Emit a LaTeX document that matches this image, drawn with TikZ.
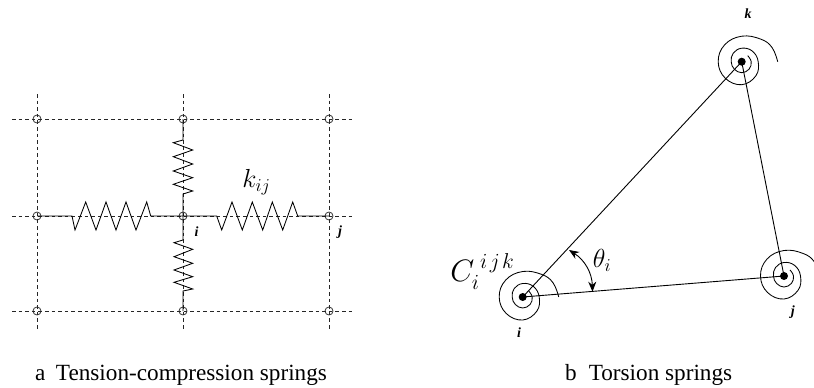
\documentclass[tikz,border=0pt]{standalone}
\usepackage{fontspec}
\setmainfont{Liberation Serif}
\usetikzlibrary{arrows.meta,calc}
\tikzset{
  grid node/.style={circle,draw=black!80,line width=.8pt,minimum size=8pt,inner sep=0pt},
  gridline/.style={draw=black!85,line width=.8pt,dash pattern=on 3.6pt off 3pt},
  spring/.style={draw=black,line width=.85pt,line join=miter},
  bar/.style={draw=black,line width=.9pt},
  hub/.style={circle,fill=black,minimum size=8pt,inner sep=0pt},
  coil/.style={draw=black,line width=.85pt},
  lab/.style={inner sep=0pt,font=\fontsize{14}{14}\selectfont\bfseries\itshape},
  captext/.style={inner sep=0pt,anchor=base west,font=\fontsize{23.2}{24}\selectfont},
  mathbig/.style={inner sep=0pt,font=\fontsize{24.88}{25}\selectfont},
  angleline/.style={draw=black,line width=.9pt,{Stealth[length=10pt,width=8pt]}-{Stealth[length=10pt,width=8pt]}},
}
\newcommand{\spiralat}[1]{\draw[coil] plot[smooth,tension=.7] coordinates {
 ($(#1)+(0:36pt)$) ($(#1)+(25:33.5pt)$) ($(#1)+(50:29.5pt)$) ($(#1)+(90:25.5pt)$) ($(#1)+(135:24pt)$) ($(#1)+(180:23.5pt)$) ($(#1)+(225:23.3pt)$) ($(#1)+(270:23pt)$) ($(#1)+(315:20pt)$) ($(#1)+(360:16.5pt)$) ($(#1)+(405:15pt)$) ($(#1)+(450:13.5pt)$) ($(#1)+(495:12pt)$) ($(#1)+(540:10.5pt)$) ($(#1)+(585:10.5pt)$) ($(#1)+(630:11pt)$) ($(#1)+(675:10.5pt)$) ($(#1)+(720:9.5pt)$) ($(#1)+(765:8.5pt)$)};}
\begin{document}
\begin{tikzpicture}[x=1pt,y=-1pt]
\useasboundingbox (0,0) rectangle (814,388);
% grid nodes
\node[grid node] (a1) at (37,119) {};
\node[grid node] (a2) at (183,119) {};
\node[grid node] (a3) at (329,119) {};
\node[grid node] (b1) at (37,216) {};
\node[grid node] (b2) at (183,216) {};
\node[grid node] (b3) at (329,216) {};
\node[grid node] (c1) at (37,311) {};
\node[grid node] (c2) at (183,311) {};
\node[grid node] (c3) at (329,311) {};
% dashed grid ends
\coordinate (l1) at (12,119); \coordinate (r1) at (354,119);
\coordinate (l2) at (12,216); \coordinate (r2) at (354,216);
\coordinate (l3) at (12,311); \coordinate (r3) at (354,311);
\coordinate (t1) at (37,94); \coordinate (d1) at (37,331);
\coordinate (t2) at (183,94); \coordinate (d2) at (183,331);
\coordinate (t3) at (329,94); \coordinate (d3) at (329,331);
\draw[gridline] (l1) -- (r1);
\draw[gridline] (l2) -- (r2);
\draw[gridline] (l3) -- (r3);
\draw[gridline] (t1) -- (d1);
\draw[gridline] (t2) -- (d2);
\draw[gridline] (t3) -- (d3);
% springs
\draw[spring] (b1.center) -- (72,216) -- (75,230) -- (85.7,202) -- (96,230) -- (106,202) -- (116,230) -- (126,202) -- (136,230) -- (146.7,202) -- (150.7,216) -- (b2.center);
\draw[spring] (b2.center) -- (216.7,216) -- (221.7,230) -- (232,202) -- (242.3,230) -- (252.3,202) -- (262.7,230) -- (272.3,202) -- (282.7,230) -- (292.7,202) -- (297.7,216) -- (b3.center);
\draw[spring] (a2.center) -- (183,140) -- (173.3,142.7) -- (192.7,150) -- (173.3,156.7) -- (192.7,164) -- (173.3,171) -- (192.7,177.7) -- (173.3,184.3) -- (192.7,191) -- (183,194) -- (b2.center);
\draw[spring] (b2.center) -- (183,240) -- (174,242.7) -- (192.7,249.3) -- (174,256.7) -- (192.7,263.3) -- (174,270) -- (192.7,276.7) -- (174,282.3) -- (192.7,289) -- (183,291) -- (c2.center);
% labels left
\node[mathbig,scale=1.05] (kij) at (256.5,182) {$k_{\scriptscriptstyle ij}$};
\node[lab] (li) at (196.5,231.5) {i};
\node[lab] (lj) at (340,232.5) {j};
\node[captext] (capa) at (35,380) {a\hspace{10.5pt}Tension-compression springs};
% triangle
\coordinate (I) at (522.7,297);
\coordinate (J) at (784,276);
\coordinate (K) at (741.7,61.7);
\draw[bar] (I) -- (J);
\draw[bar] (J) -- (K);
\draw[bar] (K) -- (I);
\spiralat{I}
\spiralat{J}
\spiralat{K}
\node[hub] (hi) at (I) {};
\node[hub] (hj) at (J) {};
\node[hub] (hk) at (K) {};
\coordinate (A) at (569,250);
\coordinate (B) at (592.5,291.7);
\draw[angleline] (A) to[bend left=28] (B);
\node[mathbig,scale=1.05] (theta) at (602,260) {$\theta_{\scriptscriptstyle i}$};
\node[mathbig,scale=1.246,anchor=base west] (cijk) at (450,281.7) {$C_{\scriptscriptstyle i}^{\raisebox{1.5pt}{$\scriptscriptstyle\mkern5mu i\mkern2mu j\mkern2mu k$}}$};
\node[lab] (ti) at (519,333) {i};
\node[lab] (tj) at (792.7,311.7) {j};
\node[lab] (tk) at (748,14) {k};
\node[captext] (capb) at (565,380) {b\hspace{12pt}Torsion springs};
\end{tikzpicture}
\end{document}
